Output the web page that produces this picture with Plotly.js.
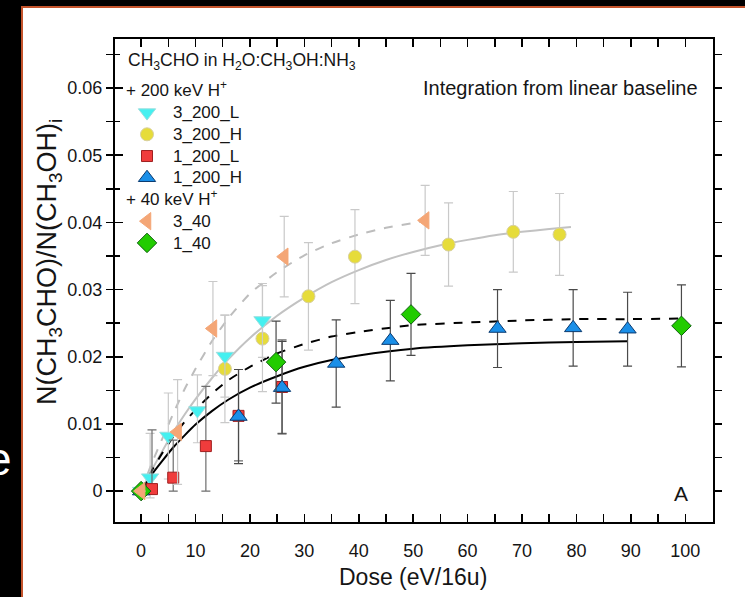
<!DOCTYPE html>
<html>
<head>
<meta charset="utf-8">
<script src="https://cdn.plot.ly/plotly-3.0.1.min.js"></script>
<style>html,body{margin:0;padding:0;background:#000;}#plot{width:745px;height:597px;}</style>
</head>
<body>
<div id="plot"></div>
<script>
// ---- data ----
const dose_3_200_L = [0, 1.65, 5.0, 10.35, 15.4, 22.3];
const val_3_200_L  = [0, 0.0020, 0.0082, 0.0120, 0.0201, 0.0254];
const errp_3_200_L = [0, 0.0066, 0.0064, 0.0053, 0.0061, 0.0055];
const errm_3_200_L = [0, 0.0030, 0.0064, 0.0048, 0.0061, 0.0055];

const dose_3_200_H = [0, 15.4, 22.3, 30.75, 39.3, 56.5, 68.4, 76.9];
const val_3_200_H  = [0, 0.0182, 0.0227, 0.0290, 0.0349, 0.0367, 0.0386, 0.0382];
const err_3_200_H  = [0, 0.0080, 0.0079, 0.0080, 0.0070, 0.0062, 0.0060, 0.0061];

const dose_1_200_L = [2.0, 5.9, 11.9, 17.9, 25.9];
const val_1_200_L  = [0.0003, 0.0020, 0.0067, 0.0112, 0.0155];
const errp_1_200_L = [0.0088, 0.0056, 0.0089, 0.0069, 0.0070];
const errm_1_200_L = [0.0003, 0.0020, 0.0067, 0.0067, 0.0069];

const dose_1_200_H = [0, 17.9, 25.9, 35.85, 45.8, 65.5, 79.4, 89.4];
const val_1_200_H  = [0, 0.0111, 0.0154, 0.0190, 0.0224, 0.0242, 0.0243, 0.0241];
const err_1_200_H  = [0, 0.0070, 0.0069, 0.0065, 0.0060, 0.0058, 0.0057, 0.0055];

const dose_3_40 = [0, 6.7, 13.2, 26.3, 52.2];
const val_3_40  = [0, 0.0088, 0.0242, 0.0349, 0.0403];
const err_3_40  = [0, 0.0078, 0.0070, 0.0060, 0.0052];

const dose_1_40 = [0, 24.8, 49.6, 99.3];
const val_1_40  = [0, 0.0192, 0.0263, 0.0246];
const err_1_40  = [0, 0.0061, 0.0061, 0.0061];

// fitted curves, points
const fitDose_3_40 = [0, 2, 4, 6, 8, 10, 13, 16, 20, 25, 30, 35, 40, 45, 50, 54];
const fitVal_3_40  = [0, 0.0042, 0.0080, 0.0117, 0.0152, 0.0182, 0.0223, 0.0257, 0.0294, 0.0326, 0.0351, 0.0369, 0.0382, 0.0392, 0.0399, 0.0404];

const fitDose_3_200 = [0, 2, 4, 6, 8, 10, 13, 16, 20, 25, 30, 35, 40, 45, 50, 55, 60, 65, 70, 75, 79];
const fitVal_3_200  = [0, 0.0032, 0.0061, 0.0089, 0.0114, 0.0137, 0.0168, 0.0196, 0.0228, 0.0261, 0.0288, 0.0311, 0.0329, 0.0344, 0.0356, 0.0366, 0.0374, 0.0381, 0.0386, 0.0390, 0.0393];

const fitDose_1_40 = [0, 2, 4, 6, 8, 10, 13, 16, 20, 25, 30, 35, 40, 50, 60, 70, 80, 90, 99.3];
const fitVal_1_40  = [0, 0.0031, 0.0058, 0.0082, 0.0103, 0.0121, 0.0145, 0.0165, 0.0185, 0.0205, 0.0219, 0.0230, 0.0237, 0.0247, 0.0251, 0.0254, 0.0256, 0.0256, 0.0257];

const fitDose_1_200 = [0, 2, 4, 6, 8, 10, 13, 16, 20, 25, 30, 35, 40, 50, 60, 70, 80, 89.4];
const fitVal_1_200  = [0, 0.0025, 0.0046, 0.0066, 0.0083, 0.0099, 0.0119, 0.0136, 0.0154, 0.0171, 0.0185, 0.0195, 0.0202, 0.0212, 0.0217, 0.0220, 0.0222, 0.0223];

const xTickVals = [0, 10, 20, 30, 40, 50, 60, 70, 80, 90, 100];
const yTickVals = [0, 0.01, 0.02, 0.03, 0.04, 0.05, 0.06];
const yTickText = ['0', '0.01', '0.02', '0.03', '0.04', '0.05', '0.06'];

// ---- layout geometry ----
const W = 745, H = 597;
const M = {l: 115, r: 32, t: 39, b: 75};
const PW = W - M.l - M.r, PH = H - M.t - M.b;
const px = x => (x - M.l) / PW;
const py = y => (H - M.b - y) / PH;
const FONT = 'Liberation Sans, Arial, sans-serif';
const TXT = '#151515';

const LIGHT = '#c9c9c9', DARK = '#4a4a4a', MID = '#6e6e6e';
const big = s => '<span style="font-size:17px">' + s + '</span>';

function fit(x, y, color, dash) {
  return {x, y, type: 'scatter', mode: 'lines', line: {color, width: 2, dash, shape: 'spline', smoothing: 0.6},
          showlegend: false, hoverinfo: 'skip'};
}
function pts(name, x, y, ep, em, ecolor, sym, size, fill, lineColor, group, gtitle, rank) {
  return {x, y, name: big(name), type: 'scatter', mode: 'markers',
    marker: {symbol: sym, size, color: fill, line: {color: lineColor, width: 1}},
    error_y: {type: 'data', array: ep, arrayminus: em || ep, symmetric: !em, color: ecolor, thickness: 1.2, width: 4.5},
    legendgroup: group, legendrank: rank, cliponaxis: false,
    legendgrouptitle: {text: big(gtitle), font: {size: 14.4, family: FONT, color: TXT}}};
}

const G200 = '+ 200 keV H<sup>+</sup>', G40 = '+ 40 keV H<sup>+</sup>';
const data = [
  fit(fitDose_3_200, fitVal_3_200, '#c2c2c2', 'solid'),
  fit(fitDose_3_40, fitVal_3_40, '#bdbdbd', 'dash'),
  fit(fitDose_1_200, fitVal_1_200, '#000000', 'solid'),
  fit(fitDose_1_40, fitVal_1_40, '#000000', 'dash'),
  pts('3_200_H', dose_3_200_H, val_3_200_H, err_3_200_H, null, LIGHT, 'circle', 13, '#e6dc3a', '#d8d0a0', 'g200', G200, 2),
  pts('3_200_L', dose_3_200_L, val_3_200_L, errp_3_200_L, errm_3_200_L, LIGHT, 'triangle-down', 15, '#45f0f0', '#9adede', 'g200', G200, 1),
  pts('1_200_L', dose_1_200_L, val_1_200_L, errp_1_200_L, errm_1_200_L, MID, 'square', 11, '#f03c3c', '#a02020', 'g200', G200, 3),
  pts('1_200_H', dose_1_200_H, val_1_200_H, err_1_200_H, null, DARK, 'triangle-up', 15, '#1a8fe8', '#0a3a70', 'g200', G200, 4),
  pts('1_40', dose_1_40, val_1_40, err_1_40, null, DARK, 'diamond', 15, '#22cc00', '#106010', 'g40', G40, 6),
  pts('3_40', dose_3_40, val_3_40, err_3_40, null, LIGHT, 'triangle-left', 15, '#f4a676', '#f4a676', 'g40', G40, 5)
];

const axisCommon = {showline: true, linecolor: '#000', linewidth: 2, mirror: 'allticks', showgrid: false, zeroline: false,
  tickcolor: '#000', tickwidth: 1.5, ticklen: 8, ticks: 'inside',
  tickfont: {family: FONT, size: 18, color: TXT}};

const layout = {
  width: W, height: H,
  margin: M,
  paper_bgcolor: '#000000',
  plot_bgcolor: 'rgba(0,0,0,0)',
  showlegend: true,
  legend: {x: px(121), y: py(75), xanchor: 'left', yanchor: 'top', bgcolor: 'rgba(0,0,0,0)', borderwidth: 0,
    font: {family: FONT, size: 14.4, color: TXT}, tracegroupgap: 0, traceorder: 'grouped', itemwidth: 42},
  xaxis: Object.assign({}, axisCommon, {range: [-4.8, 105.1], tickvals: xTickVals, ticklabelstandoff: 11,
    minor: {dtick: 5, ticks: 'inside', ticklen: 4, tickcolor: '#000', tickwidth: 1.5}}),
  yaxis: Object.assign({}, axisCommon, {range: [-0.0046, 0.0673], tickvals: yTickVals, ticktext: yTickText,
    ticks: 'outside', ticklen: 7,
    minor: {dtick: 0.005, tick0: 0, ticks: 'outside', ticklen: 7, tickcolor: '#000', tickwidth: 1.5}}),
  yaxis2: {overlaying: 'y', side: 'left', range: [-0.0046, 0.0673], showline: false, showgrid: false, zeroline: false,
    tickvals: yTickVals, ticks: 'inside', ticklen: 8, tickwidth: 1.5, tickcolor: '#000', showticklabels: false,
    minor: {dtick: 0.005, tick0: 0, ticks: 'inside', ticklen: 5, tickcolor: '#000', tickwidth: 1.5}},
  shapes: [
    {type: 'rect', xref: 'paper', yref: 'paper', x0: px(22), x1: px(760), y0: py(610), y1: py(7),
     fillcolor: '#ffffff', line: {color: '#c4532b', width: 2}, layer: 'below'}
  ],
  annotations: [
    {xref: 'paper', yref: 'paper', x: px(126), y: py(61), xanchor: 'left', yanchor: 'middle', showarrow: false,
     text: 'CH<sub>3</sub>CHO in H<sub>2</sub>O:CH<sub>3</sub>OH:NH<sub>3</sub>', font: {family: FONT, size: 17.5, color: TXT}},
    {xref: 'paper', yref: 'paper', x: px(413), y: py(577), xanchor: 'center', yanchor: 'middle', showarrow: false,
     text: 'Dose (eV/16u)', font: {family: FONT, size: 23, color: TXT}},
    {xref: 'paper', yref: 'paper', x: px(49), y: py(262), xanchor: 'center', yanchor: 'middle', showarrow: false, textangle: -90,
     text: 'N(CH<sub>3</sub>CHO)/N(CH<sub>3</sub>OH)<sub>i</sub>', font: {family: FONT, size: 27, color: TXT}},
    {xref: 'paper', yref: 'paper', x: px(700), y: py(88), xanchor: 'right', yanchor: 'middle', showarrow: false,
     text: 'Integration from linear baseline', font: {family: FONT, size: 20, color: TXT}},
    {xref: 'paper', yref: 'paper', x: px(681), y: py(493), xanchor: 'center', yanchor: 'middle', showarrow: false,
     text: 'A', font: {family: FONT, size: 21, color: TXT}},
    {xref: 'paper', yref: 'paper', x: px(14), y: py(459), xanchor: 'right', yanchor: 'middle', showarrow: false,
     text: 'e', font: {family: FONT, size: 46, color: '#ffffff'}}
  ]
};

// invisible helper trace so the overlaid left tick axis is drawn
data.push({x: [0], y: [0], yaxis: 'y2', type: 'scatter', mode: 'markers', marker: {opacity: 0}, showlegend: false, hoverinfo: 'skip'});

Plotly.newPlot('plot', data, layout, {displayModeBar: false, staticPlot: true});
</script>
</body>
</html>
